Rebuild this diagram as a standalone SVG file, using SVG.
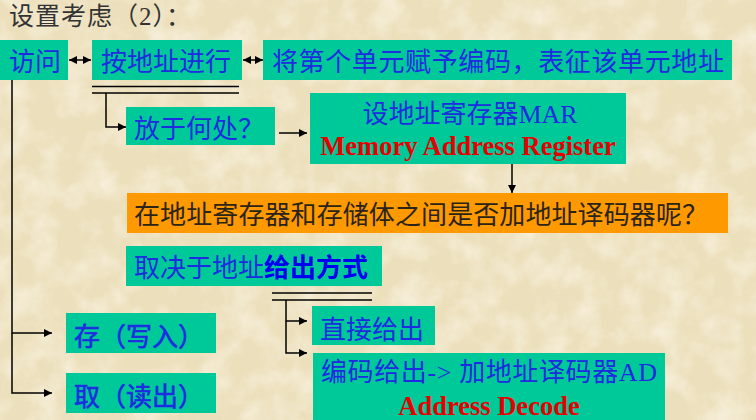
<svg xmlns="http://www.w3.org/2000/svg" width="756" height="420" viewBox="0 0 756 420">
<defs>
<style>
.bg{fill:#ECDFBB}
.box{fill:#00C999}
.org{fill:#FF9900}
.t{font-family:"Liberation Serif","Noto Sans CJK SC",serif;font-size:26px;fill:#1E2BE0}
.tb{font-weight:bold;fill:#0000F0}
.tm{stroke:#1E2BE0;stroke-width:0.6}
.title{font-family:"Liberation Serif","Noto Sans CJK SC",serif;font-size:25px;fill:#333333}
.dk{font-family:"Liberation Serif","Noto Sans CJK SC",serif;font-size:26px;fill:#2A2418}
.red{font-family:"Liberation Serif","Noto Sans CJK SC",serif;font-size:26.5px;font-weight:bold;fill:#E60000}
.ln{stroke:#000;stroke-width:1.5;fill:none}
.ar{stroke:#000;stroke-width:1.5;fill:none;marker-end:url(#ah)}
.dar{stroke:#000;stroke-width:1.5;fill:none;marker-end:url(#ah);marker-start:url(#ah)}
</style>
<marker id="ah" viewBox="0 0 10 10" refX="10" refY="5" markerWidth="9" markerHeight="8" markerUnits="userSpaceOnUse" orient="auto-start-reverse">
<path d="M0,0 L10,5 L0,10 z" fill="#000"/>
</marker>
<filter id="tex" x="0" y="0" width="100%" height="100%">
<feTurbulence type="fractalNoise" baseFrequency="0.035" numOctaves="4" seed="7" result="n"/>
<feColorMatrix in="n" type="matrix" values="0 0 0 0 0.96  0 0 0 0 0.92  0 0 0 0 0.80  0 0 0 1.4 -0.55"/>
</filter>
</defs>
<rect class="bg" x="0" y="0" width="756" height="420"/>
<rect x="0" y="0" width="756" height="420" fill="#ECDFBB" filter="url(#tex)"/>

<text class="title" x="9" y="25" textLength="182">设置考虑（2）：</text>

<g id="n-fangwen"><rect class="box" x="0" y="40" width="68" height="40"/><text class="t" x="9" y="71">访问</text></g>
<g id="n-anzhi"><rect class="box" x="92" y="40" width="150" height="40"/><text class="t" x="101" y="71">按地址进行</text></g>
<g id="n-bianma"><rect class="box" x="263" y="40" width="469" height="40"/><text class="t" x="272" y="71" textLength="452">将第个单元赋予编码，表征该单元地址</text></g>
<g id="n-hechu"><rect class="box" x="126" y="107" width="149" height="38"/><text class="t" x="134" y="138">放于何处？</text></g>
<g id="n-mar"><rect class="box" x="310" y="93" width="316" height="71"/><text class="t" x="470" y="123" text-anchor="middle">设地址寄存器MAR</text><text class="red" x="468" y="155" text-anchor="middle">Memory Address Register</text></g>
<g id="n-question"><rect class="org" x="127" y="193" width="601" height="40"/><text class="dk" x="134" y="224" textLength="574">在地址寄存器和存储体之间是否加地址译码器呢？</text></g>
<g id="n-fangshi"><rect class="box" x="126" y="246" width="256" height="40"/><text class="t" x="134" y="277">取决于地址<tspan class="tb">给出方式</tspan></text></g>
<g id="n-cun"><rect class="box" x="66" y="313" width="150" height="40"/><text class="t tm" x="74" y="346">存（写入）</text></g>
<g id="n-qu"><rect class="box" x="66" y="373" width="150" height="40"/><text class="t tm" x="74" y="406">取（读出）</text></g>
<g id="n-zhijie"><rect class="box" x="312" y="306" width="123" height="39"/><text class="t" x="320" y="339">直接给出</text></g>
<g id="n-ad"><rect class="box" x="313" y="353" width="352" height="67"/><text class="t" x="321" y="381" textLength="336">编码给出-&gt; 加地址译码器AD</text><text class="red" x="489" y="415" text-anchor="middle">Address Decode</text></g>

<g id="connectors">
<line class="dar" x1="69" y1="60" x2="91" y2="60"/>
<line class="dar" x1="243" y1="60" x2="263" y2="60"/>
<line class="ln" x1="92" y1="86.5" x2="239" y2="86.5"/>
<line class="ln" x1="92" y1="93" x2="239" y2="93"/>
<polyline class="ar" points="106,93 106,127 126,127"/>
<line class="ar" x1="279" y1="133" x2="307" y2="133"/>
<line class="ar" x1="512" y1="164" x2="512" y2="193"/>
<line class="ln" x1="272" y1="293" x2="372" y2="293"/>
<line class="ln" x1="272" y1="300" x2="372" y2="300"/>
<polyline class="ar" points="286,300 286,321 307,321"/>
<polyline class="ar" points="286,321 286,353 307,353"/>
<polyline class="ar" points="12,80 12,333 52,333"/>
<polyline class="ar" points="12,333 12,393 52,393"/>
</g>
</svg>
